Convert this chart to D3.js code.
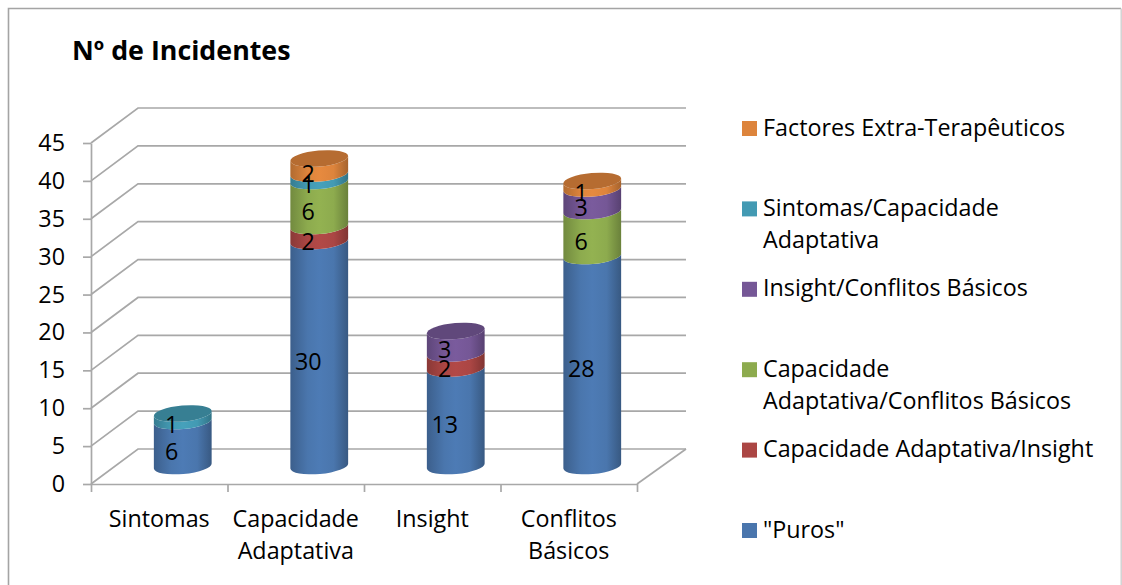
<!DOCTYPE html>
<html lang="pt">
<head>
    <meta charset="UTF-8">
    <title>Nº de Incidentes</title>
    <script src="https://d3js.org/d3.v7.min.js"></script>
    <style>
        body { margin: 0; background: #fff; }
        svg { display: block; }
        text { font-family: "Open Sans", "Noto Sans", sans-serif; fill: #000; }
    </style>
</head>
<body>
    <div id="chart"></div>
    <script>
        const categories = [['Sintomas'], ['Capacidade', 'Adaptativa'], ['Insight'], ['Conflitos', 'Básicos']];
        const yTicks = [0, 5, 10, 15, 20, 25, 30, 35, 40, 45];

        // stacking order, bottom to top
        const puros = [6, 30, 13, 28];
        const capInsight = [0, 2, 2, 0];
        const capConflitos = [0, 6, 0, 6];
        const insightConflitos = [0, 0, 3, 3];
        const sintCap = [1, 1, 0, 0];
        const extra = [0, 2, 0, 1];

        const seriesValues = [puros, capInsight, capConflitos, insightConflitos, sintCap, extra];
        const seriesColors = ['#4a76ad', '#ab4644', '#8dab4e', '#755796', '#439ab3', '#dd843c'];
        const legendLabels = [
            ['"Puros"'],
            ['Capacidade Adaptativa/Insight'],
            ['Capacidade', 'Adaptativa/Conflitos Básicos'],
            ['Insight/Conflitos Básicos'],
            ['Sintomas/Capacidade', 'Adaptativa'],
            ['Factores Extra-Terapêuticos']
        ];

        const width = 1122, height = 585;
        const x0 = 91, x1 = 637, y0 = 484, y45 = 143;
        const depthX = 47, depthY = -35;    // back wall offset
        const rx = 29, ry = 8, tilt = 5;    // cylinder ellipse
        const fontSize = 23.3;

        const svg = d3.select('#chart').append('svg')
            .attr('width', width).attr('height', height);

        const xScale = d3.scaleBand().domain(d3.range(categories.length)).range([x0, x1]);
        const yScale = d3.scaleLinear().domain([0, 45]).range([y0, y45]);
        // cylinders stand half way into the depth
        const barScale = d3.scaleLinear().domain([0, 45]).range([466, 128.5]);

        // outer frame
        svg.append('path')
            .attr('d', `M8.5,${height} V8.5 H1121`)
            .attr('fill', 'none').attr('stroke', '#a4a4a4').attr('stroke-width', 1.6);
        svg.append('path')
            .attr('d', `M1121.2,8.5 V${height}`)
            .attr('fill', 'none').attr('stroke', '#d0d0d0').attr('stroke-width', 1.4);

        svg.append('text').attr('x', 72).attr('y', 60)
            .attr('font-size', 26.8).attr('font-weight', 700)
            .text('Nº de Incidentes');

        // walls and floor
        const grid = svg.append('g').attr('fill', 'none').attr('stroke', '#a8a8a8').attr('stroke-width', 1.7);
        yTicks.forEach(t => {
            const y = yScale(t);
            grid.append('path').attr('d', `M${x0},${y} L${x0 + depthX},${y + depthY} H${x1 + depthX + 2}`);
        });
        grid.append('path').attr('d', `M${x1},${y0} L${x1 + depthX + 2},${y0 + depthY}`);

        // axes
        const yAxis = svg.append('g').attr('transform', `translate(${x0},0)`)
            .call(d3.axisLeft(yScale).tickValues(yTicks).tickSize(8).tickSizeOuter(0).tickPadding(18));
        const xAxis = svg.append('g').attr('transform', `translate(0,${y0})`)
            .call(d3.axisBottom(d3.scaleLinear().domain([0, 4]).range([x0, x1])).ticks(4).tickSize(8).tickSizeOuter(0).tickFormat(''));
        [yAxis, xAxis].forEach(a => {
            a.selectAll('path, line').attr('stroke', '#a8a8a8').attr('stroke-width', 1.7);
        });
        yAxis.attr('font-family', null);
        yAxis.selectAll('text').attr('font-size', fontSize).style('fill', '#000');

        // category labels
        categories.forEach((lines, i) => {
            const cx = xScale(i) + xScale.bandwidth() / 2;
            lines.forEach((line, j) => {
                svg.append('text').attr('x', cx).attr('y', 527 + j * 32)
                    .attr('text-anchor', 'middle').attr('font-size', fontSize).text(line);
            });
        });

        // side gradients
        const defs = svg.append('defs');
        seriesColors.forEach((c, i) => {
            const grad = defs.append('linearGradient').attr('id', 'side' + i);
            [[0, d3.color(c).darker(0.6)], [0.3, c], [0.5, d3.color(c).brighter(0.12)], [0.75, c], [1, d3.color(c).darker(0.8)]]
                .forEach(([o, col]) => grad.append('stop').attr('offset', o).attr('stop-color', col));
        });

        const stack = d3.stack().keys(d3.range(seriesValues.length))
            .value((d, k) => seriesValues[k][d]);
        const stacked = stack(d3.range(categories.length));
        const sinT = Math.sin(tilt * Math.PI / 180), cosT = Math.cos(tilt * Math.PI / 180);
        const centerX = i => xScale(i) + xScale.bandwidth() / 2 + depthX / 2;

        const side = (cx, yb, yt) => {
            const dx = rx * cosT, dy = rx * sinT;
            return `M${cx - dx},${yb + dy} A${rx},${ry} ${-tilt} 0 0 ${cx + dx},${yb - dy}` +
                ` L${cx + dx},${yt - dy} A${rx},${ry} ${-tilt} 0 1 ${cx - dx},${yt + dy} Z`;
        };

        stacked.forEach((layer, s) => {
            svg.append('g').selectAll('path')
                .data(layer.map((d, i) => ({ i, low: d[0], high: d[1] })).filter(d => d.high > d.low))
                .join('path')
                .attr('d', d => side(centerX(d.i), barScale(d.low), barScale(d.high)))
                .attr('fill', `url(#side${s})`);
        });

        // top caps
        categories.forEach((_, i) => {
            const total = d3.sum(seriesValues, v => v[i]);
            const topIdx = d3.max(d3.range(seriesValues.length).filter(s => seriesValues[s][i] > 0));
            svg.append('ellipse')
                .attr('rx', rx).attr('ry', ry)
                .attr('transform', `translate(${centerX(i)},${barScale(total)}) rotate(${-tilt})`)
                .attr('fill', d3.color(seriesColors[topIdx]).darker(0.55));
        });

        // value labels
        stacked.forEach((layer, s) => {
            svg.append('g').selectAll('text')
                .data(layer.map((d, i) => ({ i, low: d[0], high: d[1], v: seriesValues[s][i] })).filter(d => d.v > 0))
                .join('text')
                .attr('x', d => centerX(d.i) - 11)
                .attr('y', d => barScale((d.low + d.high) / 2) + 8)
                .attr('dy', '0.35em')
                .attr('text-anchor', 'middle')
                .attr('font-size', fontSize)
                .text(d => d.v);
        });

        // legend, top entry is the last series
        const legendY = d3.scalePoint().domain(d3.range(seriesValues.length)).range([530.5, 128.5]);
        seriesColors.forEach((c, s) => {
            const y = legendY(s);
            svg.append('rect').attr('x', 742).attr('y', y - 7.5).attr('width', 15).attr('height', 15).attr('fill', c);
            legendLabels[s].forEach((line, j) => {
                svg.append('text').attr('x', 763).attr('y', y + 7 + j * 32)
                    .attr('font-size', fontSize).text(line);
            });
        });
    </script>
</body>
</html>
